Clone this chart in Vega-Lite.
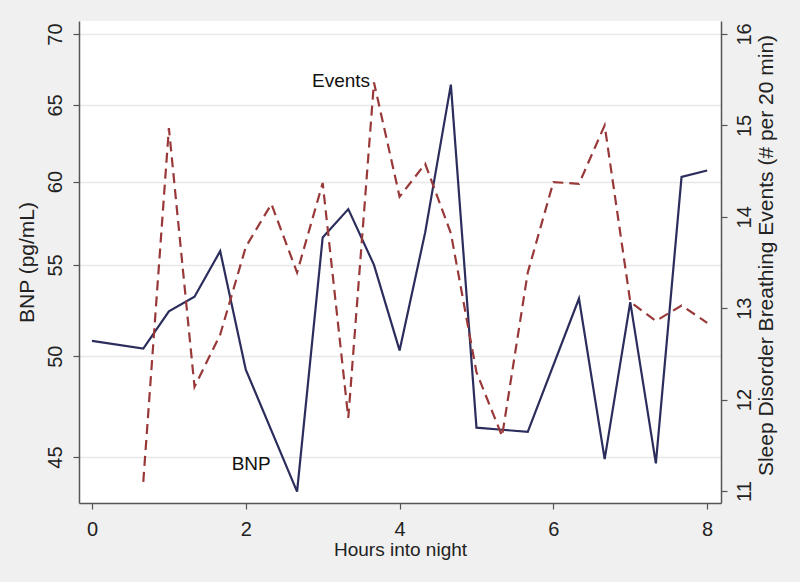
{
  "$schema": "https://vega.github.io/schema/vega-lite/v6.json",
  "width": 642,
  "height": 482,
  "autosize": {"type": "none"},
  "padding": {"left": 79, "top": 21, "right": 79, "bottom": 79},
  "background": "#f0f0f0",
  "view": {"fill": "white", "stroke": null},
  "config": {
    "font": "Liberation Sans",
    "axis": {
      "domainColor": "#555555",
      "domainWidth": 1.5,
      "tickColor": "#555555",
      "tickWidth": 1.2,
      "tickSize": 6,
      "labelColor": "#222222",
      "titleColor": "#222222",
      "labelFontSize": 20,
      "titleFontWeight": "normal",
      "labelFont": "Liberation Sans",
      "titleFont": "Liberation Sans",
      "format": "d"
    }
  },
  "datasets": {
    "bnp": [
      {"hours": 0.0, "bnp": 50.8},
      {"hours": 0.667, "bnp": 50.4},
      {"hours": 1.0, "bnp": 52.4},
      {"hours": 1.333, "bnp": 53.2},
      {"hours": 1.667, "bnp": 55.8},
      {"hours": 2.0, "bnp": 49.3},
      {"hours": 2.667, "bnp": 43.4},
      {"hours": 3.0, "bnp": 56.6},
      {"hours": 3.333, "bnp": 58.3},
      {"hours": 3.667, "bnp": 55.0},
      {"hours": 4.0, "bnp": 50.3},
      {"hours": 4.333, "bnp": 56.9},
      {"hours": 4.667, "bnp": 66.4},
      {"hours": 5.0, "bnp": 46.4},
      {"hours": 5.333, "bnp": 46.3},
      {"hours": 5.667, "bnp": 46.2},
      {"hours": 6.333, "bnp": 53.1},
      {"hours": 6.667, "bnp": 44.9},
      {"hours": 7.0, "bnp": 52.9},
      {"hours": 7.333, "bnp": 44.7},
      {"hours": 7.667, "bnp": 60.3},
      {"hours": 8.0, "bnp": 60.7}
    ],
    "events": [
      {"hours": 0.667, "events": 11.1},
      {"hours": 1.0, "events": 14.97},
      {"hours": 1.333, "events": 12.14},
      {"hours": 1.667, "events": 12.71},
      {"hours": 2.0, "events": 13.67},
      {"hours": 2.333, "events": 14.14},
      {"hours": 2.667, "events": 13.39},
      {"hours": 3.0, "events": 14.37},
      {"hours": 3.333, "events": 11.8},
      {"hours": 3.667, "events": 15.47},
      {"hours": 4.0, "events": 14.22},
      {"hours": 4.333, "events": 14.58},
      {"hours": 4.667, "events": 13.82},
      {"hours": 5.0, "events": 12.3},
      {"hours": 5.333, "events": 11.6},
      {"hours": 5.667, "events": 13.39},
      {"hours": 6.0, "events": 14.38},
      {"hours": 6.333, "events": 14.36},
      {"hours": 6.667, "events": 15.0},
      {"hours": 7.0, "events": 13.07},
      {"hours": 7.333, "events": 12.86},
      {"hours": 7.667, "events": 13.03},
      {"hours": 8.0, "events": 12.84}
    ],
    "labels": [
      {"label": "BNP", "hours": 2.07, "bnp": 44.67},
      {"label": "Events", "hours": 3.616, "events": 15.486}
    ]
  },
  "layer": [
    {
      "layer": [
        {
          "data": {"name": "bnp"},
          "mark": {"type": "line", "color": "#2b2d5c", "strokeWidth": 2.2},
          "encoding": {
            "x": {
              "field": "hours", "type": "quantitative",
              "scale": {"domain": [-0.169, 8.18], "nice": false, "zero": false},
              "axis": {"values": [0, 2, 4, 6, 8], "format": "d", "title": "Hours into night", "titleFontSize": 19, "grid": false, "labelPadding": 10, "titlePadding": 1}
            },
            "y": {
              "field": "bnp", "type": "quantitative",
              "scale": {"type": "log", "domain": [42.89, 70.96], "nice": false, "zero": false},
              "axis": {"orient": "left", "values": [45, 50, 55, 60, 65, 70], "format": "d", "title": "BNP (pg/mL)", "titleFontSize": 21, "labelAngle": -90, "labelAlign": "center", "labelBaseline": "bottom", "labelPadding": 8, "titlePadding": 8, "grid": true, "gridColor": "#e8e8e8", "gridWidth": 1.5}
            }
          }
        },
        {
          "data": {"name": "labels"},
          "transform": [{"filter": "datum.label === 'BNP'"}],
          "mark": {"type": "text", "fontSize": 19, "color": "#111111", "align": "center", "baseline": "middle", "font": "Liberation Sans"},
          "encoding": {
            "x": {"field": "hours", "type": "quantitative", "title": "Hours into night"},
            "y": {"field": "bnp", "type": "quantitative", "title": "BNP (pg/mL)"},
            "text": {"field": "label"}
          }
        }
      ]
    },
    {
      "layer": [
        {
          "data": {"name": "events"},
          "mark": {"type": "line", "color": "#993838", "strokeWidth": 2.2, "strokeDash": [10, 6]},
          "encoding": {
            "x": {"field": "hours", "type": "quantitative", "title": "Hours into night"},
            "y": {
              "field": "events", "type": "quantitative",
              "scale": {"domain": [10.869, 16.142], "nice": false, "zero": false},
              "axis": {"orient": "right", "values": [11, 12, 13, 14, 15, 16], "format": "d", "title": "Sleep Disorder Breathing Events (# per 20 min)", "titleFontSize": 21, "titleAngle": 270, "titleBaseline": "top", "labelAngle": -90, "labelAlign": "center", "labelBaseline": "top", "labelPadding": 7, "titlePadding": 1, "titleY": 234, "grid": false}
            }
          }
        },
        {
          "data": {"name": "labels"},
          "transform": [{"filter": "datum.label === 'Events'"}],
          "mark": {"type": "text", "fontSize": 19, "color": "#111111", "align": "right", "baseline": "middle", "font": "Liberation Sans"},
          "encoding": {
            "x": {"field": "hours", "type": "quantitative", "title": "Hours into night"},
            "y": {"field": "events", "type": "quantitative", "title": "Sleep Disorder Breathing Events (# per 20 min)"},
            "text": {"field": "label"}
          }
        }
      ]
    }
  ],
  "resolve": {"scale": {"y": "independent"}}
}
